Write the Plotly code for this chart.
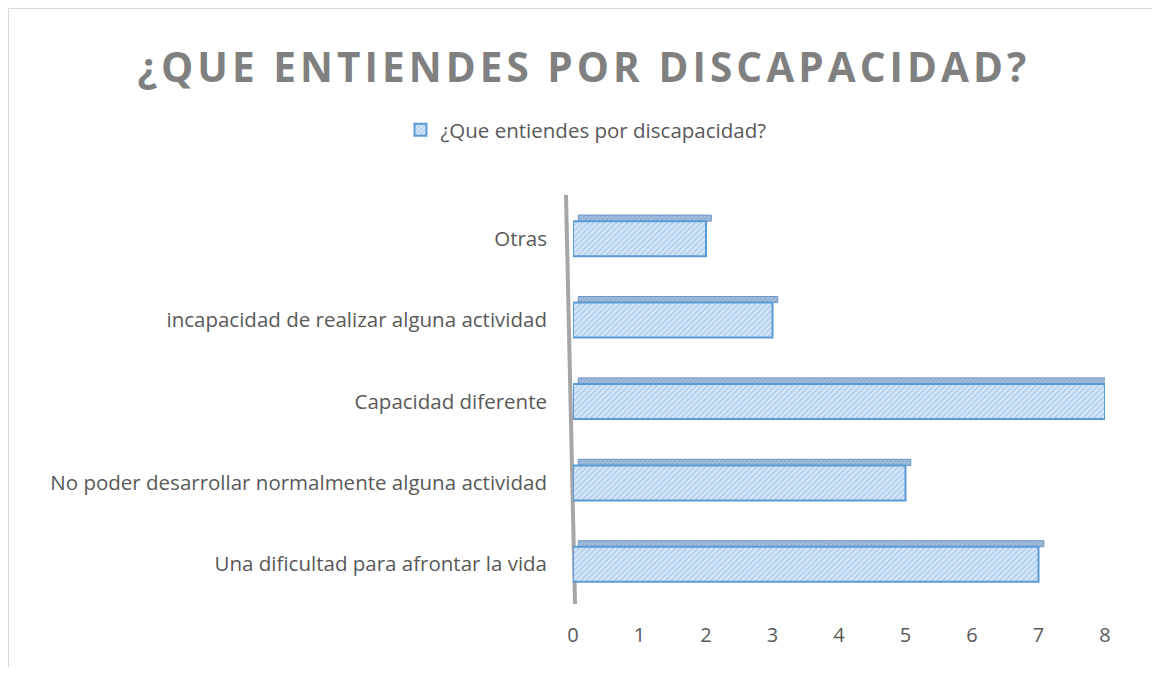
import plotly.graph_objects as go

categories = [
    "Una dificultad para afrontar la vida",
    "No poder desarrollar normalmente alguna actividad",
    "Capacidad diferente",
    "incapacidad de realizar alguna actividad",
    "Otras",
]
values = [7, 5, 8, 3, 2]
series_name = "¿Que entiendes por discapacidad?"
title_text = "¿QUE ENTIENDES POR DISCAPACIDAD?"
x_ticks = [0, 1, 2, 3, 4, 5, 6, 7, 8]

# the page body adds an 8px offset, so the figure is drawn smaller
OFF = 8
W, H = 1160 - OFF, 675 - 2 * OFF
ml, mr, mt = 573 - OFF, 55, 198 - OFF
mb = H - (605 - OFF)

# spread the title letters like the original (letter spacing)
spaced_title = "\u200a".join(title_text)

fig = go.Figure()

# top face of the 3D bars
fig.add_trace(go.Bar(
    y=categories, x=values, orientation="h", base=0.08,
    width=0.075, offset=0.215, showlegend=False, hoverinfo="skip",
    marker=dict(color="#8aa9cc", line=dict(color="#6f95c4", width=1),
                pattern=dict(shape="/", fgcolor="#6d8db5", bgcolor="#a7c3e3",
                             size=3, solidity=0.45)),
))

fig.add_trace(go.Bar(
    y=categories, x=values, orientation="h", name=series_name,
    width=0.43, offset=-0.215,
    marker=dict(color="#d6e7f8", line=dict(color="#5b9bd5", width=2),
                pattern=dict(shape="/", fgcolor="#86b3e0", bgcolor="#d6e7f8",
                             size=4, solidity=0.4)),
))

# pixel -> paper helpers (page pixels)
px = lambda v: (v - OFF - ml) / (W - ml - mr)
py = lambda v: 1 - (v - OFF - mt) / (H - mt - mb)

# outer chart border
fig.add_shape(type="rect", xref="paper", yref="paper",
              x0=px(OFF + 0.5), x1=px(1157.5), y0=py(720), y1=py(OFF + 0.5),
              line=dict(color="#d9d9d9", width=1))

# slanted (3D perspective) vertical axis line
fig.add_shape(type="line", xref="paper", yref="paper",
              x0=px(566), y0=py(195), x1=px(575), y1=py(604),
              line=dict(color="#a6a6a6", width=4), layer="below")

fig.update_layout(
    width=W, height=H,
    margin=dict(l=ml, r=mr, t=mt, b=mb),
    paper_bgcolor="white", plot_bgcolor="white",
    font=dict(family="Open Sans", color="#595959", size=20),
    title=dict(text=spaced_title, x=(582 - OFF) / W, xref="container", xanchor="center",
               y=1 - (68 - OFF) / H, yref="container", yanchor="middle",
               font=dict(family="Open Sans", size=40.5, color="#808080", weight="bold")),
    legend=dict(orientation="h", x=(586 - OFF) / W, xref="container", xanchor="center",
                y=1 - (130 - OFF) / H, yref="container", yanchor="middle",
                itemwidth=30, font=dict(size=20.5, color="#595959")),
    barmode="overlay",
    showlegend=True,
    xaxis=dict(range=[0, 8], tickvals=x_ticks, showgrid=False, zeroline=False,
               showline=False, ticks="", ticklabelstandoff=16,
               tickfont=dict(size=20, color="#595959")),
    yaxis=dict(showgrid=False, zeroline=False, showline=False,
               ticks="", ticklabelstandoff=25,
               tickfont=dict(size=20.5, color="#595959")),
)

fig.write_html("out.html")
